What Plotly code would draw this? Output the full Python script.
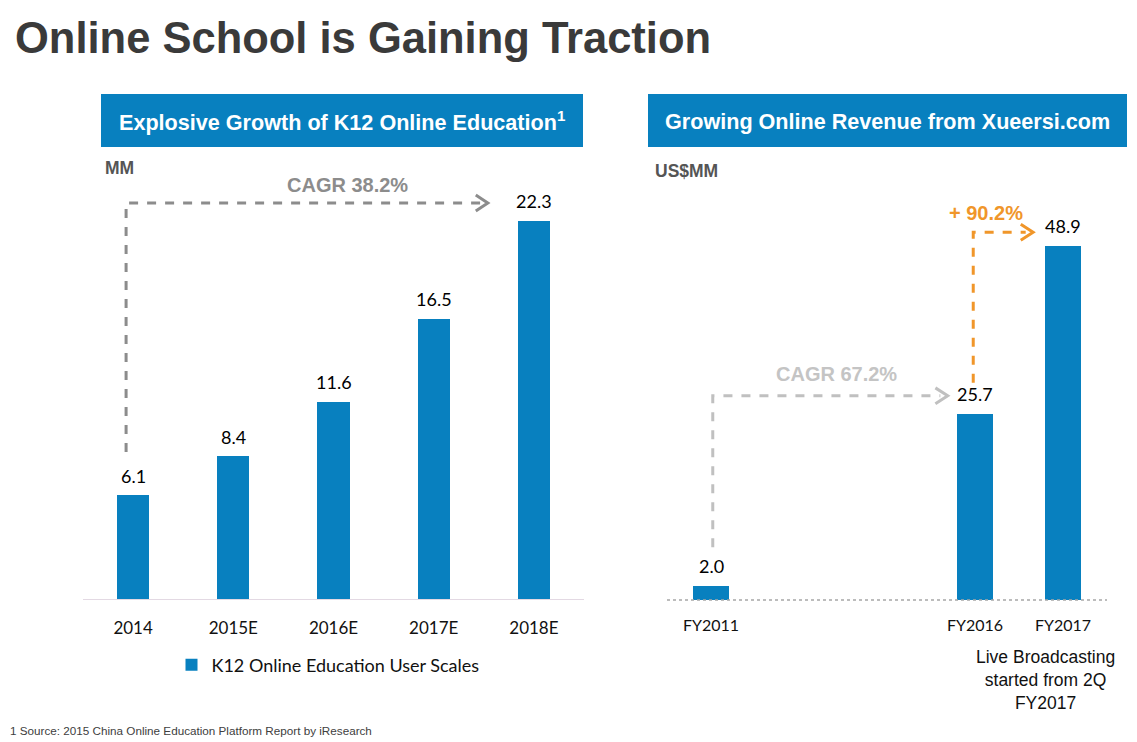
import plotly.graph_objects as go

# ---------------- data ----------------
left_categories = ["2014", "2015E", "2016E", "2017E", "2018E"]
left_values = [6.1, 8.4, 11.6, 16.5, 22.3]
left_series_name = "K12 Online Education User Scales"

right_categories = ["FY2011", "FY2016", "FY2017"]
right_slots = [0, 3, 4]          # FY2012-FY2015 are skipped on the axis
right_values = [2.0, 25.7, 48.9]

title_text = "Online School is Gaining Traction"
left_header = "Explosive Growth of K12 Online Education<sup>1</sup>"
right_header = "Growing Online Revenue from Xueersi.com"
left_unit = "MM"
right_unit = "US$MM"
left_cagr = "CAGR 38.2%"
right_cagr = "CAGR 67.2%"
right_growth = "+ 90.2%"
note_text = "Live Broadcasting<br>started from 2Q<br>FY2017"
footnote = "1 Source: 2015 China Online Education Platform Report by iResearch"

# ---------------- style ----------------
W, H = 1137, 742
OFF = 8   # page body margin
BLUE = "#0880BF"
LBL_FONT = "Lato, Carlito, 'Open Sans', sans-serif"
ARIAL = "'Liberation Sans', Arial, sans-serif"


def px(x):
    return (x - OFF) / W


def py(y):
    return 1 - (y - OFF) / H


fig = go.Figure()

fig.add_trace(go.Bar(
    x=list(range(len(left_categories))), y=left_values, name=left_series_name,
    marker=dict(color=BLUE, line=dict(width=0)), width=0.32,
    xaxis="x", yaxis="y", showlegend=True,
))
fig.add_trace(go.Bar(
    x=right_slots, y=right_values, name="Revenue",
    marker=dict(color=BLUE, line=dict(width=0)), width=0.4,
    xaxis="x2", yaxis="y2", showlegend=False,
))

shapes = []
annotations = []

# value labels
for i, v in enumerate(left_values):
    annotations.append(dict(xref="x", yref="y", x=i, y=v, text=f"{v:.1f}", showarrow=False,
                            yanchor="bottom", yshift=7,
                            font=dict(family=LBL_FONT, size=18, color="#000000")))
for s, v in zip(right_slots, right_values):
    annotations.append(dict(xref="x2", yref="y2", x=s, y=v, text=f"{v:.1f}", showarrow=False,
                            yanchor="bottom", yshift=7,
                            font=dict(family=LBL_FONT, size=18, color="#000000")))

# header boxes
for x0, x1, txt in [(101, 583, left_header), (648, 1127, right_header)]:
    shapes.append(dict(type="rect", xref="paper", yref="paper",
                       x0=px(x0), x1=px(x1), y0=py(147), y1=py(94),
                       fillcolor=BLUE, line=dict(width=0), layer="below"))
    annotations.append(dict(xref="paper", yref="paper", x=px((x0 + x1) / 2), y=py(121),
                            text=f"<b>{txt}</b>", showarrow=False,
                            font=dict(family=ARIAL, size=21.6, color="white"),
                            xanchor="center", yanchor="middle"))

# right axis dotted baseline
shapes.append(dict(type="line", xref="paper", yref="paper",
                   x0=px(667), x1=px(1107), y0=py(600), y1=py(600),
                   line=dict(color="#a6a6a6", width=1.5, dash="dot")))


def dashed_arrow(xr, yr, xv, yb, yt, xtip, dx, dy, color, width):
    shapes.append(dict(type="path", xref=xr, yref=yr,
                       path=f"M {xv},{yb} L {xv},{yt} L {xtip - dx * 0.6},{yt}",
                       line=dict(color=color, width=width, dash="dash")))
    shapes.append(dict(type="path", xref=xr, yref=yr,
                       path=f"M {xtip - dx},{yt + dy} L {xtip},{yt} L {xtip - dx},{yt - dy}",
                       line=dict(color=color, width=width)))


# left CAGR arrow
dashed_arrow("x", "y", -0.07, 8.67, 23.36, 3.54, 0.12, 0.47, "#8c8c8c", 3)
annotations.append(dict(xref="x", yref="y", x=2.14, y=24.4, text=f"<b>{left_cagr}</b>",
                        showarrow=False, font=dict(family=ARIAL, size=20, color="#8c8c8c")))
# right CAGR arrow
dashed_arrow("x2", "y2", 0.02, 7.3, 28.2, 2.69, 0.14, 1.1, "#c0c0c0", 3)
annotations.append(dict(xref="x2", yref="y2", x=1.43, y=31.2, text=f"<b>{right_cagr}</b>",
                        showarrow=False, font=dict(family=ARIAL, size=20, color="#c4c4c4")))
# orange growth arrow
dashed_arrow("x2", "y2", 2.98, 30.0, 50.8, 3.66, 0.14, 1.1, "#F0962A", 3)
annotations.append(dict(xref="x2", yref="y2", x=3.12, y=53.4, text=f"<b>{right_growth}</b>",
                        showarrow=False, font=dict(family=ARIAL, size=20, color="#F0962A")))

# title, units, note, footnote
annotations += [
    dict(xref="paper", yref="paper", x=px(13), y=py(38), text=f"<b>{title_text}</b>",
         showarrow=False, xanchor="left", yanchor="middle",
         font=dict(family="'Liberation Sans Narrow', 'Arial Narrow', 'Liberation Sans', sans-serif",
                   size=43.5, color="#3a3a3a")),
    dict(xref="paper", yref="paper", x=px(103), y=py(168), text=f"<b>{left_unit}</b>",
         showarrow=False, xanchor="left", yanchor="middle",
         font=dict(family=ARIAL, size=17.5, color="#555555")),
    dict(xref="paper", yref="paper", x=px(653), y=py(171), text=f"<b>{right_unit}</b>",
         showarrow=False, xanchor="left", yanchor="middle",
         font=dict(family=ARIAL, size=17.5, color="#555555")),
    dict(xref="paper", yref="paper", x=px(1045), y=py(680), text=note_text,
         showarrow=False, xanchor="center", yanchor="middle", align="center",
         font=dict(family=ARIAL, size=17.5, color="#111111")),
    dict(xref="paper", yref="paper", x=px(8), y=py(730), text=footnote,
         showarrow=False, xanchor="left", yanchor="middle",
         font=dict(family=ARIAL, size=11.7, color="#404040")),
]

tickfont = dict(family=LBL_FONT, size=17, color="#111111")

fig.update_layout(
    width=W, height=H, margin=dict(l=0, r=0, t=0, b=0),
    paper_bgcolor="white", plot_bgcolor="white",
    shapes=shapes, annotations=annotations,
    xaxis=dict(domain=[px(83), px(584)], range=[-0.5, 4.5], tickmode="array",
               tickvals=list(range(len(left_categories))), ticktext=left_categories,
               showgrid=False, zeroline=False, showline=True, linecolor="#e3d9e3",
               linewidth=1, ticks="", tickfont=tickfont, ticklabelstandoff=14,
               anchor="y", fixedrange=True),
    yaxis=dict(domain=[py(599), py(599 - 25 * 16.95)], range=[0, 25], visible=False,
               anchor="x"),
    xaxis2=dict(domain=[px(667), px(1107)], range=[-0.5, 4.5], tickmode="array",
                tickvals=right_slots, ticktext=right_categories,
                showgrid=False, zeroline=False, showline=False, ticks="",
                tickfont=dict(family=LBL_FONT, size=16, color="#111111"),
                ticklabelstandoff=14, anchor="y2"),
    yaxis2=dict(domain=[py(600), py(600 - 55 * 7.24)], range=[0, 55], visible=False,
                anchor="x2"),
    legend=dict(orientation="h", x=px(328), xanchor="center", y=py(665), yanchor="middle",
                font=dict(family=LBL_FONT, size=18, color="#111111"),
                bgcolor="rgba(0,0,0,0)", itemwidth=30),
    bargap=0,
)

fig.write_html("out.html")
